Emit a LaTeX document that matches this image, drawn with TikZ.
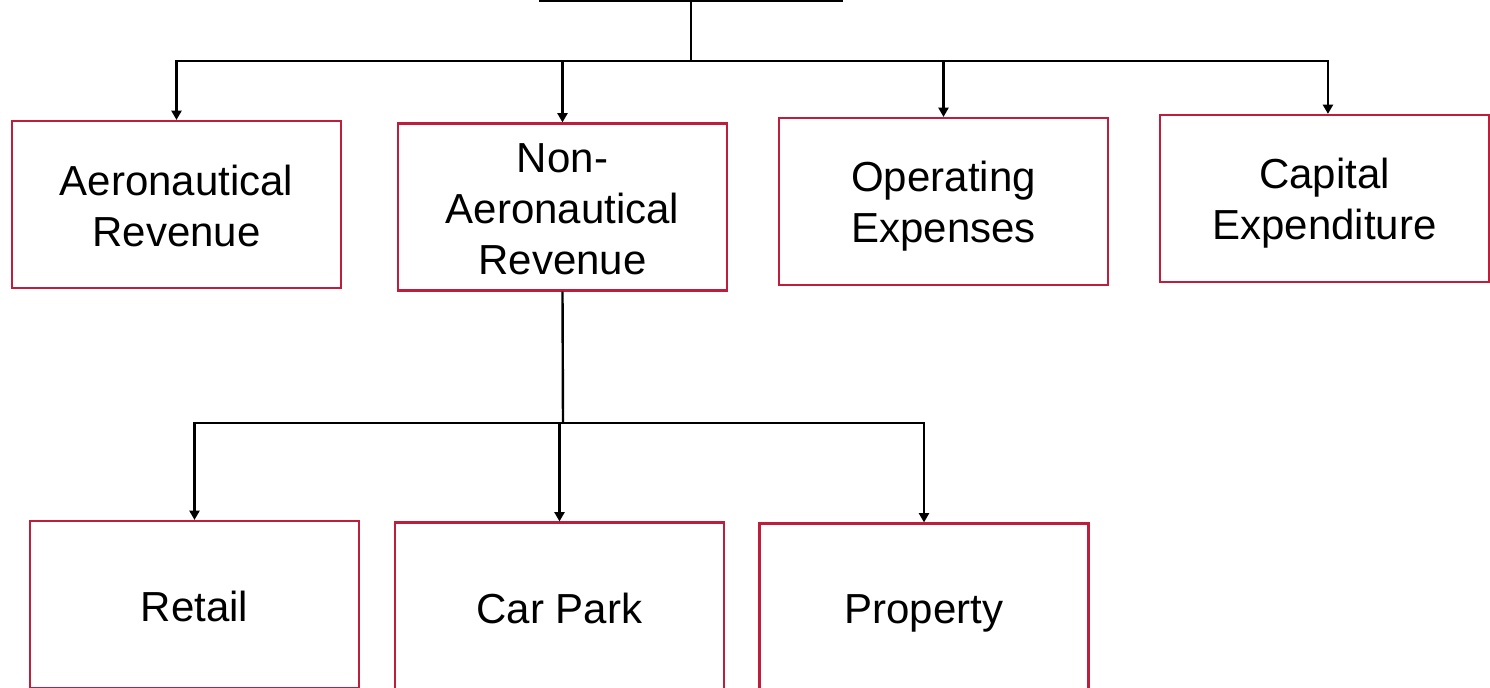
\documentclass[tikz,border=0pt]{standalone}
\usepackage{fontspec}
\setmainfont{Liberation Sans}
\usetikzlibrary{arrows.meta}
\definecolor{boxred}{RGB}{190,30,60}
\tikzset{
  box/.style={draw=boxred, line width=1.6pt, fill=white, inner sep=0pt,
    minimum width=246.75pt, minimum height=125.25pt},
  lab/.style={align=center, inner sep=0pt, font=\fontsize{31.5}{38.3}\selectfont},
  txt/.style n args={2}{label={[lab, yshift=#1]center:#2}},
  topbox/.style={draw=black, line width=1.8pt, fill=white, inner sep=0pt,
    minimum width=226.5pt, minimum height=90pt},
  conn/.style={draw=black, line width=1.8pt},
  arr/.style={conn, -{Triangle[length=7pt,width=7.5pt]}}
}
\begin{document}
\begin{tikzpicture}[x=0.75pt,y=-0.75pt]
\clip (0,0) rectangle (1490,688);
\fill[white] (0,0) rectangle (1490,688);
% top (cut-off) box
\node[topbox] (top) at (691,-59) {};
% level 1
\node[box, txt={-0.8pt}{Aeronautical\\Revenue}] (aero) at (176.5,204.5) {};
\node[box, txt={-1.5pt}{Non-\\Aeronautical\\Revenue}] (nonaero) at (562.5,207) {};
\node[box, txt={-3.8pt}{Operating\\Expenses}] (opex) at (943.5,201.5) {};
\node[box, txt={-3.8pt}{Capital\\Expenditure}] (capex) at (1324.5,198.5) {};
% level 2
\node[box, txt={-1.5pt}{Retail}] (retail) at (194.5,604.5) {};
\node[box, txt={-1.5pt}{Car Park}] (carpark) at (559.5,606) {};
\node[box, txt={-5pt}{Property}] (property) at (924,607) {};
% connectors level 1
\coordinate (bus1) at (691,61);
\draw[conn] (top.south) -- (bus1);
\draw[arr] (bus1) -| (aero.north);
\draw[arr] (bus1) -| (nonaero.north);
\draw[arr] (bus1) -| (opex.north);
\draw[arr] (bus1) -| ([xshift=2.6pt]capex.north);
% connectors level 2
\coordinate (bus2) at (563,423);
\draw[conn] (nonaero.south) -- (bus2);
\draw[arr] (bus2) -| (retail.north);
\draw[arr] (bus2) -| (carpark.north);
\draw[arr] (bus2) -| (property.north);
\end{tikzpicture}
\end{document}
